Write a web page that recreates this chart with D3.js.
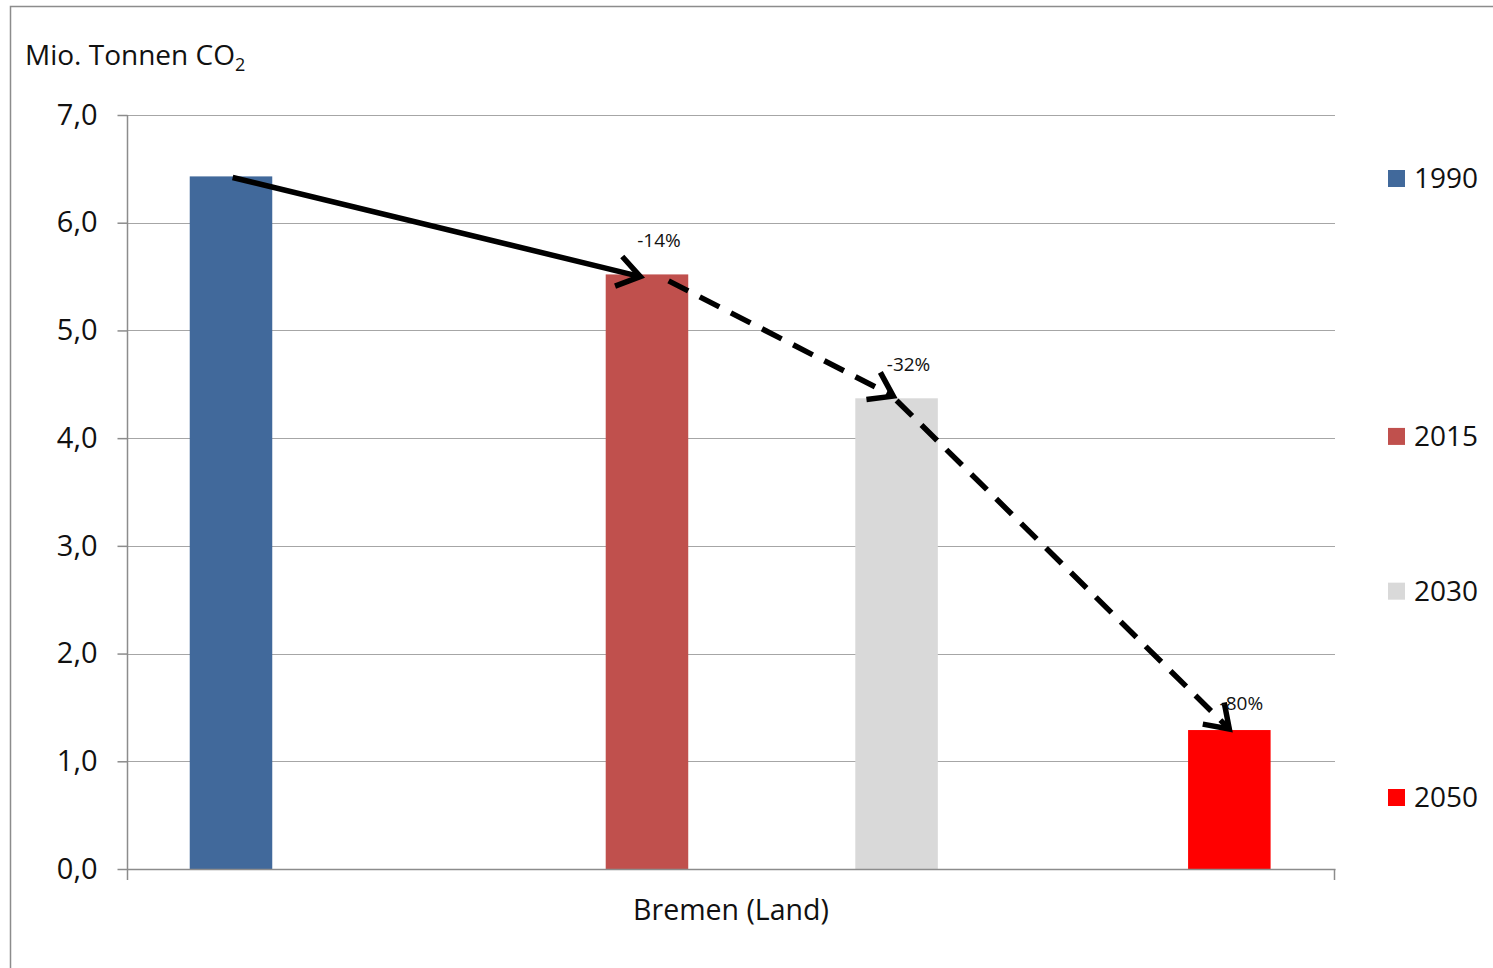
<!DOCTYPE html>
<html>
<head>
<meta charset="utf-8">
<script src="https://cdn.jsdelivr.net/npm/d3@7"></script>
<style>
  html, body { margin: 0; padding: 0; background: #fff; }
  svg { display: block; }
  text { font-family: "Open Sans", Lato, sans-serif; fill: #111; }
</style>
</head>
<body>
<svg id="chart" width="1493" height="968"></svg>
<script>
// CO2 emissions of Bremen (Land), million tonnes
const years = [1990, 2015, 2030, 2050];
const emissions = [6.43, 5.52, 4.37, 1.29];
const reductionLabels = ["", "-14%", "-32%", "-80%"];
const barColors = ["#41699b", "#c0504d", "#d9d9d9", "#ff0000"];
const yTicks = [0, 1, 2, 3, 4, 5, 6, 7];
const categoryLabel = "Bremen (Land)";
const unitLabel = "Mio. Tonnen CO";

// Trend arrows between the bar tops: [year, value] from -> to
const arrowFrom = [[1990.1, 6.42], [2016.3, 5.46], [2030.0, 4.35]];
const arrowTo   = [[2014.6, 5.50], [2029.8, 4.39], [2050.0, 1.30]];
const arrowDashed = [false, true, true];

const svg = d3.select("#chart");
const plot = { left: 127, right: 1335, top: 115, bottom: 869 };

const x = d3.scaleLinear().domain([1983.75, 2056.35]).range([plot.left, plot.right]);
const y = d3.scaleLinear().domain([0, 7]).range([plot.bottom, plot.top]);
const barYears = 4.96;

// outer frame
svg.append("rect")
  .attr("x", 10.5).attr("y", 6.5)
  .attr("width", 1500).attr("height", 1000)
  .attr("fill", "none").attr("stroke", "#8c8c8c").attr("stroke-width", 1.5);

// unit label with subscript
const title = svg.append("text")
  .attr("x", 25).attr("y", 65)
  .attr("font-size", 28);
title.append("tspan").text(unitLabel);
title.append("tspan").attr("font-size", 18).attr("dy", 6).text("2");

// horizontal grid
svg.append("g")
  .selectAll("line")
  .data(yTicks.filter(d => d > 0))
  .join("line")
  .attr("x1", plot.left).attr("x2", plot.right)
  .attr("y1", d => Math.round(y(d)) + 0.5).attr("y2", d => Math.round(y(d)) + 0.5)
  .attr("stroke", "#a6a6a6").attr("stroke-width", 1.2);

// y axis
const yAxis = d3.axisLeft(y)
  .tickValues(yTicks)
  .tickSize(10)
  .tickPadding(20)
  .tickFormat(d => d3.format(".1f")(d).replace(".", ","));
const yG = svg.append("g")
  .attr("transform", `translate(${plot.left + 0.5},0)`)
  .call(yAxis);
yG.select(".domain").remove();
yG.selectAll(".tick line").attr("stroke", "#8c8c8c").attr("stroke-width", 1.5);
yG.selectAll(".tick text")
  .attr("font-size", 29)
  .attr("font-family", "'Open Sans', Lato, sans-serif")
  .attr("fill", "#111");
svg.append("line")
  .attr("x1", plot.left + 0.5).attr("x2", plot.left + 0.5)
  .attr("y1", plot.top).attr("y2", plot.bottom + 11)
  .attr("stroke", "#8c8c8c").attr("stroke-width", 1.5);

// bars
svg.append("g")
  .selectAll("rect")
  .data(years)
  .join("rect")
  .attr("x", d => x(d - barYears / 2))
  .attr("width", x(barYears) - x(0))
  .attr("y", (d, i) => y(emissions[i]))
  .attr("height", (d, i) => y(0) - y(emissions[i]))
  .attr("fill", (d, i) => barColors[i]);

// x axis baseline and end ticks
svg.append("line")
  .attr("x1", plot.left).attr("x2", plot.right + 0.5)
  .attr("y1", plot.bottom + 0.5).attr("y2", plot.bottom + 0.5)
  .attr("stroke", "#8c8c8c").attr("stroke-width", 1.5);
svg.append("line")
  .attr("x1", plot.right - 0.5).attr("x2", plot.right - 0.5)
  .attr("y1", plot.bottom).attr("y2", plot.bottom + 11)
  .attr("stroke", "#8c8c8c").attr("stroke-width", 1.5);

svg.append("text")
  .attr("x", (plot.left + plot.right) / 2)
  .attr("y", 920)
  .attr("text-anchor", "middle")
  .attr("font-size", 28.5)
  .text(categoryLabel);

// trend arrows
const arrows = svg.append("g");
arrowFrom.forEach((from, i) => {
  const to = arrowTo[i];
  const x1 = x(from[0]), y1 = y(from[1]);
  const x2 = x(to[0]), y2 = y(to[1]);
  arrows.append("line")
    .attr("x1", x1).attr("y1", y1).attr("x2", x2).attr("y2", y2)
    .attr("stroke", "#000").attr("stroke-width", 5.5)
    .attr("stroke-dasharray", arrowDashed[i] ? "22,13" : null);
  const ang = Math.atan2(y2 - y1, x2 - x1);
  const len = 27, spread = 0.6;
  const head = d3.path();
  head.moveTo(x2 - len * Math.cos(ang - spread), y2 - len * Math.sin(ang - spread));
  head.lineTo(x2, y2);
  head.lineTo(x2 - len * Math.cos(ang + spread), y2 - len * Math.sin(ang + spread));
  arrows.append("path")
    .attr("d", head.toString())
    .attr("fill", "none").attr("stroke", "#000").attr("stroke-width", 5.5)
    .attr("stroke-linejoin", "miter");
});

// reduction labels above the bars (closer to short bars)
svg.append("g")
  .selectAll("text")
  .data(years)
  .join("text")
  .attr("x", d => x(d) + 12)
  .attr("y", (d, i) => y(emissions[i]) - (emissions[i] < 2 ? 20 : 27))
  .attr("text-anchor", "middle")
  .attr("font-size", 19)
  .text((d, i) => reductionLabels[i]);

// legend, entries spaced along the year axis
const ly = d3.scaleLinear().domain([1990, 2050]).range([178, 797]);
const legend = svg.append("g")
  .selectAll("g")
  .data(years)
  .join("g")
  .attr("transform", d => `translate(1388,${ly(d)})`);
legend.append("rect")
  .attr("x", 0).attr("y", -8).attr("width", 17).attr("height", 17)
  .attr("fill", (d, i) => barColors[i]);
legend.append("text")
  .attr("x", 26).attr("y", 10)
  .attr("font-size", 28)
  .text(d => d);
</script>
</body>
</html>
